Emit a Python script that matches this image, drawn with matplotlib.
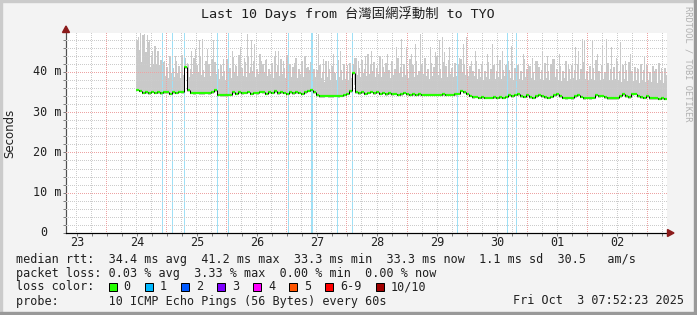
import numpy as np
import matplotlib
matplotlib.use("Agg")
import matplotlib.pyplot as plt
from matplotlib.patches import Rectangle, Polygon
from matplotlib.lines import Line2D

# ---------------- data ----------------
title = "Last 10 Days from 台灣固網浮動制 to TYO"
day_labels = ["23", "24", "25", "26", "27", "28", "29", "30", "01", "02"]
y_tick_vals = [0, 10, 20, 30, 40]
y_tick_labels = ["0", "10 m", "20 m", "30 m", "40 m"]

# time axis in days since Sep 23 00:00
view_start, view_end = 0.3167, 10.3333
data_start = 1.483      # first sample (day)
sample_step = 0.05      # days per sample

median_ms = [
    35.6, 35.3, 34.8, 35.0, 34.7, 35.1, 34.8, 35.0, 34.7, 35.0,
    34.9, 34.6, 35.0, 34.8, 35.1, 34.9, 41.2, 35.4, 34.8, 34.7,
    34.8, 34.7, 34.7, 34.8, 34.7, 34.9, 35.5, 34.3, 34.2, 34.2,
    34.2, 34.3, 34.9, 34.6, 35.0, 34.7, 34.8, 35.1, 34.6, 34.8,
    34.7, 35.1, 34.9, 34.6, 35.0, 34.8, 35.2, 34.7, 35.0, 34.8,
    34.6, 34.9, 34.7, 35.0, 34.8, 34.6, 34.9, 35.3, 35.4, 35.0,
    34.2, 34.0, 34.0, 34.1, 34.0, 34.0, 34.1, 34.0, 34.1, 34.3,
    34.6, 35.2, 39.7, 35.0, 34.7, 34.9, 34.6, 34.8, 35.1, 34.7,
    34.9, 34.6, 34.8, 34.5, 34.7, 34.4, 34.6, 34.3, 34.5, 34.8,
    34.4, 34.3, 34.5, 34.3, 34.4, 34.3, 34.3, 34.3, 34.3, 34.3,
    34.3, 34.3, 34.4, 34.3, 34.3, 34.3, 34.4, 34.6, 35.3, 35.0,
    34.6, 34.1, 33.7, 33.8, 33.6, 33.7, 33.6, 33.6, 33.6, 33.7,
    33.6, 33.7, 33.6, 33.8, 34.2, 33.9, 34.3, 34.5, 34.0, 33.8,
    34.2, 33.7, 33.6, 33.9, 34.3, 34.0, 33.7, 33.6, 33.8, 34.2,
    34.4, 34.0, 33.6, 33.5, 33.6, 33.5, 33.9, 34.3, 33.8, 33.5,
    33.6, 33.5, 33.6, 34.3, 33.9, 34.1, 33.7, 33.5, 33.4, 33.5,
    33.4, 33.9, 34.4, 34.0, 33.7, 34.5, 34.6, 34.0, 33.7, 33.6,
    33.9, 33.5, 33.4, 33.5, 33.3, 33.4, 33.3,
]

# dense part of the smoke (upper edge), same sampling as the median
smoke_top_ms = [
    41.5, 42.5, 40.8, 43.0, 41.2, 42.0, 40.5, 41.8, 40.2,
    39.0, 38.4, 39.6, 38.8, 39.8, 38.5, 39.2,
    41.5,
    38.8, 39.5, 38.6, 40.0, 39.2, 38.7, 39.8, 39.0, 38.6,
    39.5, 38.2, 38.9, 38.0, 39.3, 38.4,
    39.8, 38.9, 40.2, 39.0, 38.6, 39.7, 40.3, 38.8, 39.4, 38.5, 39.9, 38.9, 39.5, 38.4, 39.6,
    38.9, 39.4, 38.5, 40.0, 38.8, 39.2, 38.4, 39.5, 38.8, 39.8, 38.6, 39.3, 38.7,
    37.8, 38.4, 37.5, 38.6, 37.9, 38.2, 37.6, 38.8, 37.9, 38.3, 37.7, 38.5,
    40.5,
    39.2, 38.7, 39.8, 38.9, 39.5, 40.1, 38.8, 39.4, 38.6, 39.7, 39.0, 38.5,
    39.3, 38.6, 39.6, 38.8, 39.1, 38.4, 39.5, 38.7, 39.2, 38.5, 39.4, 38.9, 38.3,
    39.0, 38.6, 39.3, 38.5, 39.1, 38.7, 39.4, 38.6, 39.0,
    38.8, 39.6, 39.2, 38.9, 38.4, 38.9, 38.2, 38.7, 38.0, 38.8, 38.3, 39.0, 38.1,
    38.6, 38.2, 38.9, 38.0,
    38.5, 38.0, 38.8, 38.3, 37.9, 38.6, 38.1, 38.4, 37.8, 38.7, 38.2, 38.0, 38.5,
    37.9, 38.3, 38.6, 38.0, 37.8, 38.4, 37.7, 38.1, 38.5, 37.9, 38.2,
    37.8, 38.3, 37.6, 38.1, 37.9, 38.4, 37.7, 38.2, 37.5, 38.0, 37.6, 38.3, 37.8,
    37.4, 38.1, 37.7, 38.2, 37.6, 37.9, 37.3, 37.8, 37.5, 38.0, 37.4, 37.7, 37.2,
    37.6, 37.3, 37.5,
]

# highest ping of each sample (thin columns above the dense smoke)
smoke_upper_ms = [
    48.0, 45.5, 49.2, 44.8, 47.5, 43.9, 46.3, 45.1, 43.0,
    42.5, 41.2, 43.8, 40.9, 42.7, 41.5, 44.2,
    43.5,
    42.0, 40.8, 43.5, 41.6, 44.0, 40.5, 42.8, 41.9, 43.2,
    42.4, 40.6, 41.8, 40.2, 43.1, 41.0,
    43.6, 41.4, 44.2, 40.9, 42.5, 43.9, 41.2, 42.8, 40.7, 44.5, 41.9, 43.0, 40.8, 42.2, 43.7,
    41.6, 43.2, 40.9, 44.1, 42.0, 41.3, 43.5, 40.6, 42.7, 44.0, 41.1, 42.4, 40.8,
    40.4, 41.8, 39.9, 42.6, 40.7, 41.5, 39.8, 43.0, 40.5, 41.9, 40.2, 42.3,
    42.0,
    43.4, 41.0, 42.9, 40.6, 44.3, 41.7, 42.5, 40.9, 43.8, 41.3, 42.2, 40.5,
    42.8, 40.7, 43.5, 41.2, 42.0, 40.4, 43.1, 41.6, 42.7, 40.3, 41.9, 43.4, 40.8,
    42.3, 41.1, 43.9, 40.6, 42.5, 41.4, 43.0, 40.9, 42.1,
    41.8, 43.2, 42.0, 40.7, 41.5, 40.2, 42.8, 40.6, 41.9, 40.1, 42.4, 40.8, 41.6,
    40.3, 42.9, 40.5, 41.7,
    40.4, 42.5, 40.9, 41.8, 40.2, 43.1, 40.6, 41.5, 40.0, 42.7, 41.2, 40.5, 42.2,
    40.3, 41.9, 43.3, 40.7, 41.4, 40.1, 42.6, 40.8, 41.7, 40.4, 42.0,
    40.6, 42.4, 40.2, 41.5, 40.9, 43.0, 40.3, 41.8, 40.0, 42.2, 40.7, 41.3, 42.8,
    40.1, 41.6, 40.5, 42.5, 40.2, 41.2, 40.8, 42.0, 40.4, 41.7, 40.0, 41.4, 40.6,
    42.3, 40.3, 41.0,
]

# occasional tall single-ping spikes (day, ms)
spike_days = [
    1.510, 1.545, 1.585, 1.613, 1.660, 1.700, 1.757, 1.815, 1.855, 1.958,
    2.045, 2.130, 2.188, 2.332, 2.407, 2.475, 2.533, 2.590, 2.660, 2.763,
    2.797, 2.935, 3.022, 3.078, 3.137, 3.222, 3.280, 3.337, 3.395, 3.452,
    3.567, 3.653, 3.740, 3.797, 3.855, 3.940, 4.027, 4.113, 4.257, 4.315,
    4.372, 4.515, 4.602, 4.688, 4.773, 4.888, 5.003, 5.118, 5.177, 5.292,
    5.407, 5.493, 5.578, 5.665, 5.752, 5.820, 5.895, 5.982, 6.067, 6.125,
    6.212, 6.297, 6.383, 6.470, 6.527, 6.585, 6.613, 6.700, 6.785, 6.872,
    6.930, 6.987, 7.073, 7.130, 7.245, 7.332, 7.418, 7.503, 7.590, 7.677,
    7.733, 7.820, 7.935, 8.022, 8.078, 8.165, 8.252, 8.337, 8.423, 8.538,
    8.625, 8.682, 8.797, 8.855, 8.923, 8.958, 9.085, 9.170, 9.257, 9.315,
    9.400, 9.487, 9.545, 9.630, 9.717, 9.832, 9.947, 10.003, 10.118, 10.233,
    10.317,
]
spike_ms = [
    48.7, 50.0, 45.2, 49.5, 49.1, 47.8, 45.2, 41.8, 42.7, 42.7,
    40.3, 44.0, 41.0, 42.3, 45.2, 45.7, 47.8, 48.2, 45.7, 47.8,
    41.8, 43.1, 44.4, 45.2, 41.8, 46.1, 43.5, 49.5, 47.8, 46.9,
    42.7, 43.1, 41.8, 45.2, 45.2, 42.7, 40.1, 42.3, 41.8, 41.0,
    40.5, 49.5, 43.1, 42.7, 44.4, 45.2, 41.8, 43.5, 42.7, 44.0,
    45.2, 41.8, 43.1, 44.4, 41.0, 46.1, 48.2, 46.1, 44.4, 46.9,
    49.5, 43.5, 46.1, 44.8, 47.8, 48.7, 44.8, 46.1, 41.8, 43.5,
    46.9, 48.7, 42.7, 45.2, 42.7, 44.4, 46.9, 44.0, 45.2, 42.7,
    46.5, 42.7, 44.4, 41.8, 43.5, 42.7, 44.8, 44.0, 43.1, 44.4,
    41.0, 41.8, 46.1, 45.2, 48.2, 47.8, 47.8, 44.4, 46.5, 48.2,
    46.1, 43.5, 47.4, 42.7, 44.4, 41.0, 44.0, 41.8, 40.1, 41.0,
    39.3,
]

# loss events (1/10 lost), days
loss_days = [1.912, 2.088, 2.288, 2.838, 3.022, 4.022, 4.405, 4.425,
             4.838, 5.078, 6.838, 7.662, 7.822]

stats_line1 = "median rtt:  34.4 ms avg  41.2 ms max  33.3 ms min  33.3 ms now  1.1 ms sd  30.5   am/s"
stats_line2 = "packet loss: 0.03 % avg  3.33 % max  0.00 % min  0.00 % now"
loss_labels = ["0", "1", "2", "3", "4", "5", "6-9", "10/10"]
loss_colors = ["#26ff00", "#00b8ff", "#0059ff", "#7e00ff", "#ff00ff",
               "#ff5500", "#ff0000", "#a10000"]
probe_text = "probe:       10 ICMP Echo Pings (56 Bytes) every 60s"
date_text = "Fri Oct  3 07:52:23 2025"

# ---------------- figure ----------------
W, H = 697, 315
DPI = 100
fig = plt.figure(figsize=(W / DPI, H / DPI), dpi=DPI, facecolor="#f3f3f3")

def fx(px):
    return px / W

def fy(py):
    return 1 - py / H

PL, PR, PT, PB = 66, 667, 33, 233
PXPERMS = 4.03
YMAX = (PB - PT) / PXPERMS
ax = fig.add_axes([fx(PL), fy(PB), (PR - PL) / W, (PB - PT) / H])
ax.set_facecolor("white")
ax.set_xlim(view_start, view_end)
ax.set_ylim(0, YMAX)

MONO = ["DejaVu Sans Mono", "Noto Sans CJK TC"]
FS = 8.5
PX = 72 / DPI  # one pixel in points
TXT = "#202020"

# grid as a pixel-exact dotted overlay
gw, gh = PR - PL, PB - PT
grid = np.zeros((gh, gw, 4))
minor_rgba = np.array([0.80, 0.80, 0.80, 1.0])
major_rgba = np.array([0.93, 0.64, 0.64, 1.0])
def xcol(d):
    return int((d - view_start) / (view_end - view_start) * gw)
def yrow(v):
    return int(round(gh - v * PXPERMS))
for yv in np.arange(2, 50, 2):
    r = yrow(yv)
    if 0 <= r < gh:
        grid[r, ::2] = major_rgba if yv % 10 == 0 else minor_rgba
for xv in np.arange(0.5, 10.4, 0.25):
    c = xcol(xv)
    if 0 <= c < gw:
        grid[::2, c] = major_rgba if abs(xv - round(xv)) < 1e-6 else minor_rgba
ax.imshow(grid, extent=(view_start, view_end, 0, YMAX), aspect="auto",
          interpolation="nearest", zorder=3)

# smoke
med = np.array(median_ms)
t_med = data_start + np.arange(len(med)) * sample_step
top = np.array(smoke_top_ms)
upper = np.array(smoke_upper_ms)
n = min(len(top), len(med))
m = min(len(upper), len(med))
smoke_c = "#c9c9c9"
onepx = (view_end - view_start) / gw
ax.bar(t_med[:n], top[:n] - (med[:n] - 0.4), bottom=med[:n] - 0.4, width=sample_step,
       align="edge", color=smoke_c, lw=0, zorder=2)
ax.bar(t_med[:m] + onepx * 0.5, upper[:m] - med[:m], bottom=med[:m], width=onepx * 2,
       align="edge", color=smoke_c, lw=0, zorder=2)
ax.vlines(spike_days, 37.0, spike_ms, colors=smoke_c, lw=PX, zorder=2, antialiased=False)

# loss background lines
ax.vlines(loss_days, 0, YMAX, colors="#9fe0f6", lw=PX, zorder=2.5, antialiased=False)

# median line
ax.hlines(med, t_med, t_med + sample_step, colors="#26ff00", lw=2.2 * PX, zorder=4)
ax.vlines(t_med[1:], med[:-1], med[1:], colors="black", lw=1.0 * PX, zorder=4.5)

# axes styling
for s in ["top", "right"]:
    ax.spines[s].set_visible(False)
ax.spines["left"].set_color("#505050")
ax.spines["bottom"].set_color("black")
ax.spines["left"].set_linewidth(PX * 1.2)
ax.spines["bottom"].set_linewidth(PX * 1.2)
ax.set_xticks([]); ax.set_yticks([])
ax.set_xticks(np.arange(0.5, 10.4, 0.25), minor=True)
ax.set_yticks(np.arange(0, 50, 2), minor=True)
ax.tick_params(which="minor", length=2, width=PX, color="#808080", direction="out")

# arrows
fig.patches.append(Polygon(
    [(fx(PL - 3.5), fy(PT - 0.5)), (fx(PL + 3.5), fy(PT - 0.5)), (fx(PL), fy(PT - 7))],
    closed=True, transform=fig.transFigure, color="#8b1a1a", zorder=5))
fig.patches.append(Polygon(
    [(fx(PR + 0.5), fy(PB - 3.5)), (fx(PR + 0.5), fy(PB + 3.5)), (fx(PR + 7), fy(PB))],
    closed=True, transform=fig.transFigure, color="#8b1a1a", zorder=5))
fig.lines.append(Line2D([fx(PR), fx(PR + 2)], [fy(PB), fy(PB)],
                        transform=fig.transFigure, color="black", lw=1.2 * PX))

# y tick labels
for v, lab in zip(y_tick_vals, y_tick_labels):
    ypx = PB - v * PXPERMS
    xr = 61 if lab != "0" else 47
    fig.text(fx(xr), fy(ypx), lab, ha="right", va="center", family=MONO, fontsize=FS, color=TXT)

# x labels
for i, lab in enumerate(day_labels):
    xd = i + 0.5
    xpx = PL + (xd - view_start) / (view_end - view_start) * (PR - PL)
    fig.text(fx(xpx), fy(242), lab, ha="center", va="center", family=MONO, fontsize=FS, color=TXT)

# y label
fig.text(fx(10), fy(133), "Seconds", rotation=90, ha="center", va="center",
         family="DejaVu Sans", fontsize=8.5, color=TXT)

# title
fig.text(fx(348), fy(14), title, ha="center", va="center", family=MONO, fontsize=9.6, color=TXT)

# watermark
fig.text(fx(688), fy(6), "RRDTOOL / TOBI OETIKER", rotation=270, ha="center", va="top",
         family="DejaVu Sans Mono", fontsize=6.2, color="#b0b0b0")

# legend
CW = 7.115
fig.text(fx(16), fy(259), stats_line1, ha="left", va="center", family=MONO, fontsize=FS, color=TXT)
fig.text(fx(16), fy(273), stats_line2, ha="left", va="center", family=MONO, fontsize=FS, color=TXT)
fig.text(fx(16), fy(287), "loss color:", ha="left", va="center", family=MONO, fontsize=FS, color=TXT)
col = 13.07
for lab, c in zip(loss_labels, loss_colors):
    bx = 16 + col * CW
    fig.patches.append(Rectangle((fx(bx), fy(291)), 8 / W, 8 / H, transform=fig.transFigure,
                                 facecolor=c, edgecolor="black", lw=PX, zorder=5))
    fig.text(fx(bx + 2.07 * CW), fy(287), lab, ha="left", va="center", family=MONO, fontsize=FS, color=TXT)
    col += 2.07 + len(lab) + 2
fig.text(fx(16), fy(301), probe_text, ha="left", va="center", family=MONO, fontsize=FS, color=TXT)
fig.text(fx(513), fy(301), date_text, ha="left", va="center", family=MONO, fontsize=FS, color=TXT)

# border shading
fig.patches.append(Rectangle((0, 0), fx(2), 1, transform=fig.transFigure, color="#cbcbcb", zorder=0))
fig.patches.append(Rectangle((0, fy(2)), 1, 2 / H, transform=fig.transFigure, color="#cbcbcb", zorder=0))
fig.patches.append(Rectangle((fx(W - 3), 0), 3 / W, 1, transform=fig.transFigure, color="#999999", zorder=0))
fig.patches.append(Rectangle((0, 0), 1, 3 / H, transform=fig.transFigure, color="#999999", zorder=0))

fig.savefig("out.png", dpi=DPI, facecolor=fig.get_facecolor())
